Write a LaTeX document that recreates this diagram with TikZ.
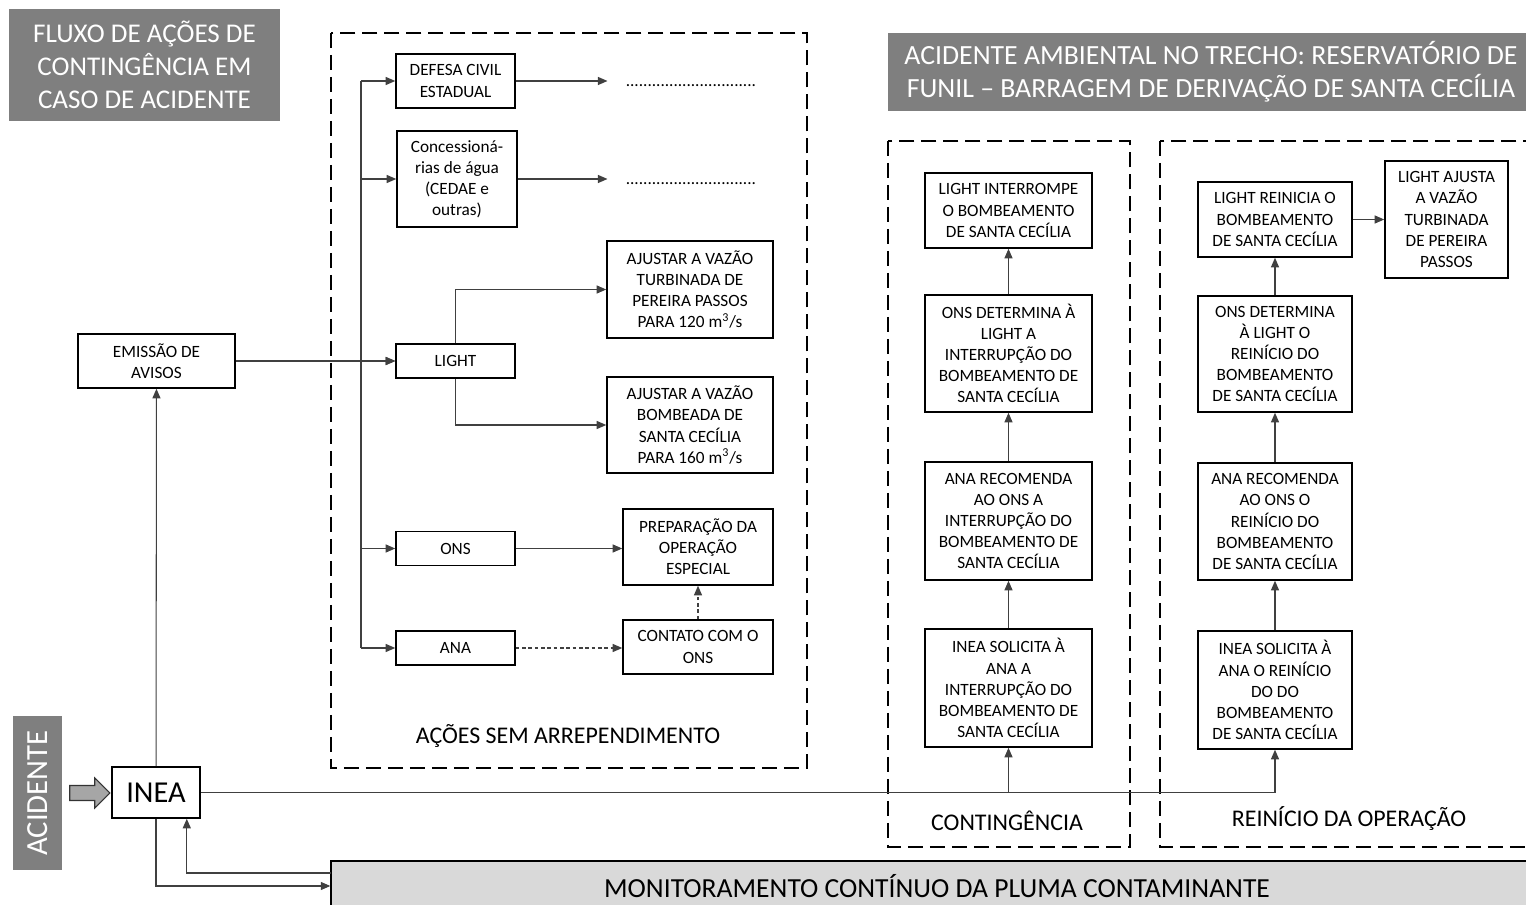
\documentclass[tikz,border=0pt]{standalone}
\usepackage{fontspec}
\setmainfont{Carlito}
\usetikzlibrary{arrows.meta,shapes.arrows}

\definecolor{headgray}{RGB}{127,127,127}
\definecolor{plumegray}{RGB}{217,217,217}
\definecolor{fatgray}{RGB}{166,166,166}

\begin{document}
\begin{tikzpicture}[x=0.02cm,y=-0.02cm,
  box/.style={draw,line width=0.9pt,align=center,inner sep=0pt,font=\fontsize{9.8}{12}\selectfont},
  conn/.style={line width=0.6pt,black!75},
  arr/.style={conn,-{Triangle[length=1.9mm,width=1.6mm]}},
  thin dash/.style={dash pattern=on 2pt off 1.6pt},
  group/.style={line width=1.3pt,dash pattern=on 0.3cm off 0.14cm},
  head/.style={fill=headgray,text=white,align=center,font=\fontsize{15.4}{18.8}\selectfont},
  grouplabel/.style={font=\fontsize{13.6}{16}\selectfont},
  dotline/.style={font=\fontsize{9.8}{12}\selectfont,text height=0.6em,text depth=0pt,inner xsep=0.36cm,inner ysep=0pt}]

  \useasboundingbox (0,0) rectangle (1526,905);

  \node[head,minimum width=5.42cm,minimum height=2.24cm] (fluxo) at (144.5,65)
    {FLUXO DE AÇÕES DE\\CONTINGÊNCIA EM\\CASO DE ACIDENTE};
  \node[head,minimum width=12.92cm,minimum height=1.56cm,font=\fontsize{15.8}{18.8}\selectfont] (trecho) at (1211,72)
    {ACIDENTE AMBIENTAL NO TRECHO: RESERVATÓRIO DE\\FUNIL – BARRAGEM DE DERIVAÇÃO DE SANTA CECÍLIA};

  \draw[group] (331,33) rectangle (807,768);
  \draw[group] (888,141) rectangle (1130,847);
  \draw[group] (1160,141) rectangle (1545,847);
  \node[grouplabel] (semarrep) at (568,736) {AÇÕES SEM ARREPENDIMENTO};
  \node[grouplabel] (contlabel) at (1007,821) {CONTINGÊNCIA};
  \node[grouplabel] (reinlabel) at (1349,819) {REINÍCIO DA OPERAÇÃO};

  \node[fill=headgray,text=white,rotate=90,minimum width=3.08cm,minimum height=0.98cm,
    font=\fontsize{17.5}{20}\selectfont] (acidente) at (37.5,793) {ACIDENTE};
  \node[single arrow,draw=black!80,fill=fatgray,line width=0.6pt,minimum height=0.8cm,
    inner sep=0.14cm,single arrow head extend=0.15cm] (fat) at (86,793) {};
  \node[box,minimum width=1.76cm,minimum height=1.02cm,font=\fontsize{17.3}{20}\selectfont] (inea) at (156,792.5) {INEA};
  \node[box,minimum width=3.14cm,minimum height=1.08cm] (avisos) at (156.5,361) {EMISSÃO DE\\AVISOS};
  \node[draw,fill=plumegray,line width=0.9pt,minimum width=24.24cm,minimum height=1cm,
    font=\fontsize{15.7}{18}\selectfont] (monitor) at (937,886) {MONITORAMENTO CONTÍNUO DA PLUMA CONTAMINANTE};

  \node[box,minimum width=2.38cm,minimum height=1.08cm] (defesa) at (455.5,81) {DEFESA CIVIL\\ESTADUAL};
  \node[box,minimum width=2.4cm,minimum height=1.92cm] (conces) at (457,179) {Concessioná-\\rias de água\\(CEDAE e\\outras)};
  \node[box,minimum width=2.38cm,minimum height=0.68cm] (light) at (455.5,361) {LIGHT};
  \node[box,minimum width=2.38cm,minimum height=0.68cm] (ons) at (455.5,548.5) {ONS};
  \node[box,minimum width=2.38cm,minimum height=0.68cm] (ana) at (455.5,648) {ANA};
  \node[dotline] (dots1) at (691,81) {..............................};
  \node[dotline] (dots2) at (691,179) {..............................};
  \node[box,minimum width=3.32cm,minimum height=1.94cm] (turbinada) at (690,289.5)
    {AJUSTAR A VAZÃO\\TURBINADA DE\\PEREIRA PASSOS\\PARA 120 m\textsuperscript{3}/s};
  \node[box,minimum width=3.32cm,minimum height=1.92cm] (bombeada) at (690,425)
    {AJUSTAR A VAZÃO\\BOMBEADA DE\\SANTA CECÍLIA\\PARA 160 m\textsuperscript{3}/s};
  \node[box,minimum width=3cm,minimum height=1.52cm] (especial) at (698,547) {PREPARAÇÃO DA\\OPERAÇÃO\\ESPECIAL};
  \node[box,minimum width=3cm,minimum height=1.08cm] (contato) at (698,647) {CONTATO COM O\\ONS};

  \node[box,minimum width=3.34cm,minimum height=1.5cm] (cinterrompe) at (1008.5,210.5)
    {LIGHT INTERROMPE\\O BOMBEAMENTO\\DE SANTA CECÍLIA};
  \node[box,minimum width=3.34cm,minimum height=2.34cm] (cdetermina) at (1008.5,353.5)
    {ONS DETERMINA À\\LIGHT A\\INTERRUPÇÃO DO\\BOMBEAMENTO DE\\SANTA CECÍLIA};
  \node[box,minimum width=3.34cm,minimum height=2.36cm] (crecomenda) at (1008.5,521)
    {ANA RECOMENDA\\AO ONS A\\INTERRUPÇÃO DO\\BOMBEAMENTO DE\\SANTA CECÍLIA};
  \node[box,minimum width=3.34cm,minimum height=2.36cm] (csolicita) at (1008.5,688)
    {INEA SOLICITA À\\ANA A\\INTERRUPÇÃO DO\\BOMBEAMENTO DE\\SANTA CECÍLIA};

  \node[box,minimum width=3.08cm,minimum height=1.5cm] (rreinicia) at (1275,219.5)
    {LIGHT REINICIA O\\BOMBEAMENTO\\DE SANTA CECÍLIA};
  \node[box,minimum width=3.08cm,minimum height=2.32cm] (rdetermina) at (1275,354)
    {ONS DETERMINA\\À LIGHT O\\REINÍCIO DO\\BOMBEAMENTO\\DE SANTA CECÍLIA};
  \node[box,minimum width=3.08cm,minimum height=2.34cm] (rrecomenda) at (1275,521.5)
    {ANA RECOMENDA\\AO ONS O\\REINÍCIO DO\\BOMBEAMENTO\\DE SANTA CECÍLIA};
  \node[box,minimum width=3.08cm,minimum height=2.36cm] (rsolicita) at (1275,690)
    {INEA SOLICITA À\\ANA O REINÍCIO\\DO DO\\BOMBEAMENTO\\DE SANTA CECÍLIA};
  \node[box,minimum width=2.46cm,minimum height=2.34cm] (rajusta) at (1446.5,219.5)
    {LIGHT AJUSTA\\A VAZÃO\\TURBINADA\\DE PEREIRA\\PASSOS};

  \coordinate (trunk) at (361,81);
  \draw[conn] (trunk) -- (trunk |- ana);
  \foreach \n in {defesa,conces,light,ons,ana}
    \draw[arr] (trunk |- \n) -- (\n);
  \draw[arr] (avisos) -- (light);
  \draw[arr] (defesa) -- (dots1);
  \draw[arr] (conces) -- (dots2);
  \draw[arr] (light.north) |- (turbinada);
  \draw[arr] (light.south) |- (bombeada);
  \draw[arr] (ons) -- (ons -| especial.west);
  \draw[arr,thin dash] (ana) -- (ana -| contato.west);
  \draw[arr,thin dash] (contato) -- (especial);

  \draw[arr] (inea) -- (avisos);
  \draw[arr] (inea.south) |- (monitor);
  \coordinate (volta) at (331,873);
  \draw[arr] (volta) -| ([xshift=-0.28cm]inea.south east);
  \draw[arr] (inea) -| (rsolicita);
  \draw[arr] (csolicita |- inea) -- (csolicita);

  \draw[arr] (csolicita) -- (crecomenda);
  \draw[arr] (crecomenda) -- (cdetermina);
  \draw[arr] (cdetermina) -- (cinterrompe);
  \draw[arr] (rsolicita) -- (rrecomenda);
  \draw[arr] (rrecomenda) -- (rdetermina);
  \draw[arr] (rdetermina) -- (rreinicia);
  \draw[arr] (rreinicia) -- (rajusta);
\end{tikzpicture}
\end{document}
